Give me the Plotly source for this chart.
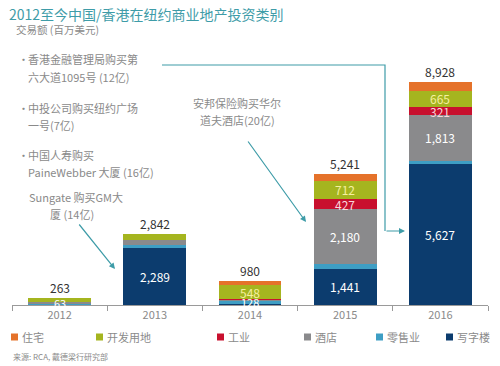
import plotly.graph_objects as go
import numpy as np

years = ["2012", "2013", "2014", "2015", "2016"]
series_names = ["写字楼", "零售业", "酒店", "工业", "开发用地", "住宅"]
office = [30, 2289, 50, 1441, 5627]
retail = [10, 100, 128, 200, 150]
hotel = [63, 200, 40, 2180, 1813]
industrial = [0, 0, 20, 427, 321]
devland = [160, 253, 548, 712, 665]
residential = [0, 0, 194, 281, 352]
totals = [263, 2842, 980, 5241, 8928]

# which segment values are labelled inside bars
labelled = {
    "写字楼": [False, True, False, True, True],
    "零售业": [False, False, True, False, False],
    "酒店": [True, False, False, True, True],
    "工业": [False, False, False, True, True],
    "开发用地": [False, False, True, True, True],
    "住宅": [False, False, False, False, False],
}

values = [office, retail, hotel, industrial, devland, residential]
colors = ["#0c3c6e", "#3e9ec4", "#8a8a8c", "#c8102e", "#a5b51f", "#e5722a"]
label_colors = ["#ffffff", "#ffffff", "#ffffff", "#f9d6dc", "#f6f0a0", "#ffffff"]

FONT = "Noto Sans CJK SC"
TEAL = "#3e9ca8"
GRAY = "#8a8a8a"

# page body has an 8px margin, so the figure is drawn 8px in from the window corner
OFF = 8
W, H = 492, 358
L, R, T, B = 4, 12, 47, 61

fig = go.Figure()
for name, vals, col in zip(series_names, values, colors):
    fig.add_trace(go.Bar(x=years, y=vals, name=name, marker=dict(color=col, line=dict(width=0)),
                         width=0.66, showlegend=False, hoverinfo="x+y+name"))

annotations = []
cum = np.zeros(len(years))
for name, vals, lc in zip(series_names, values, label_colors):
    for i, v in enumerate(vals):
        if labelled[name][i]:
            size = 12 if v >= 300 else 11
            annotations.append(dict(x=i, y=float(cum[i] + v / 2), xref="x", yref="y",
                                    text=f"{v:,}", showarrow=False,
                                    font=dict(family=FONT, size=size, color=lc)))
    cum += np.array(vals)

for i, t in enumerate(totals):
    annotations.append(dict(x=i, y=t, xref="x", yref="y", text=f"{t:,}", showarrow=False,
                            yanchor="bottom", yshift=0, font=dict(family=FONT, size=12, color="#333333")))


def px(x):
    return (x - OFF - L) / (W - L - R)


def py(y):
    return (H - B - (y - OFF)) / (H - T - B)


def text_ann(x, y, s, size=11, color=GRAY, xanchor="left"):
    annotations.append(dict(x=px(x), y=py(y), xref="paper", yref="paper", text=s, showarrow=False,
                            xanchor=xanchor, yanchor="middle",
                            font=dict(family=FONT, size=size, color=color)))


# title and subtitle
text_ann(7, 14, "2012至今中国/香港在纽约商业地产投资类别", size=14, color=TEAL)
text_ann(14, 29.5, "交易额 (百万美元)", size=10.5, color=GRAY)

# callouts
for yb in [59, 108, 155]:
    text_ann(16, yb, "•", size=11)
text_ann(26, 59, "香港金融管理局购买第")
text_ann(26, 77, "六大道1095号 (12亿)")
text_ann(26, 108, "中投公司购买纽约广场")
text_ann(26, 125, "一号(7亿)")
text_ann(26, 155, "中国人寿购买")
text_ann(26, 172, "PaineWebber 大厦 (16亿)")
text_ann(76, 197, "Sungate 购买GM大", xanchor="center")
text_ann(72, 214, "厦 (14亿)", xanchor="center")
text_ann(237, 103, "安邦保险购买华尔", xanchor="center")
text_ann(237, 120, "道夫酒店(20亿)", xanchor="center")


def arrow(hx, hy, tx, ty):
    annotations.append(dict(x=px(hx), y=py(hy), xref="paper", yref="paper", ax=tx - hx, ay=ty - hy,
                            text="", showarrow=True, arrowhead=2, arrowsize=1, arrowwidth=1.2,
                            arrowcolor=TEAL))


arrow(405, 231, 385, 231)
arrow(115, 269, 78, 223)
arrow(306, 222, 247, 140)

shapes = [dict(type="path", xref="paper", yref="paper",
               path=f"M {px(162)},{py(65)} L {px(385)},{py(65)} L {px(385)},{py(231)}",
               line=dict(color=TEAL, width=1.2))]

# legend (custom positioned)
legend_items = [("住宅", 14, "#e5722a"), ("开发用地", 99, "#a5b51f"), ("工业", 220, "#c8102e"),
                ("酒店", 307, "#8a8a8c"), ("零售业", 379, "#3e9ec4"), ("写字楼", 449, "#0c3c6e")]
for name, x0, col in legend_items:
    shapes.append(dict(type="rect", xref="paper", yref="paper", x0=px(x0 - 3), x1=px(x0 + 4),
                       y0=py(340.5), y1=py(333.5), fillcolor=col, line=dict(width=0)))
    text_ann(x0 + 6, 337, name, size=11, color=GRAY)

text_ann(11, 356, "来源: RCA, 戴德梁行研究部", size=8, color=GRAY)

fig.update_layout(
    width=W, height=H, margin=dict(l=L, r=R, t=T, b=B),
    barmode="stack", bargap=0.34,
    paper_bgcolor="white", plot_bgcolor="white",
    xaxis=dict(type="category", range=[-0.5, 4.5], showline=True, linecolor="#9a9a9a", linewidth=1,
               ticks="outside", tickson="boundaries", ticklen=5, tickcolor="#9a9a9a",
               tickfont=dict(family=FONT, size=11, color=GRAY), showgrid=False),
    yaxis=dict(range=[0, 10000], visible=False, showgrid=False, zeroline=False),
    annotations=annotations, shapes=shapes, showlegend=False,
    font=dict(family=FONT),
)

fig.write_html("out.html")
